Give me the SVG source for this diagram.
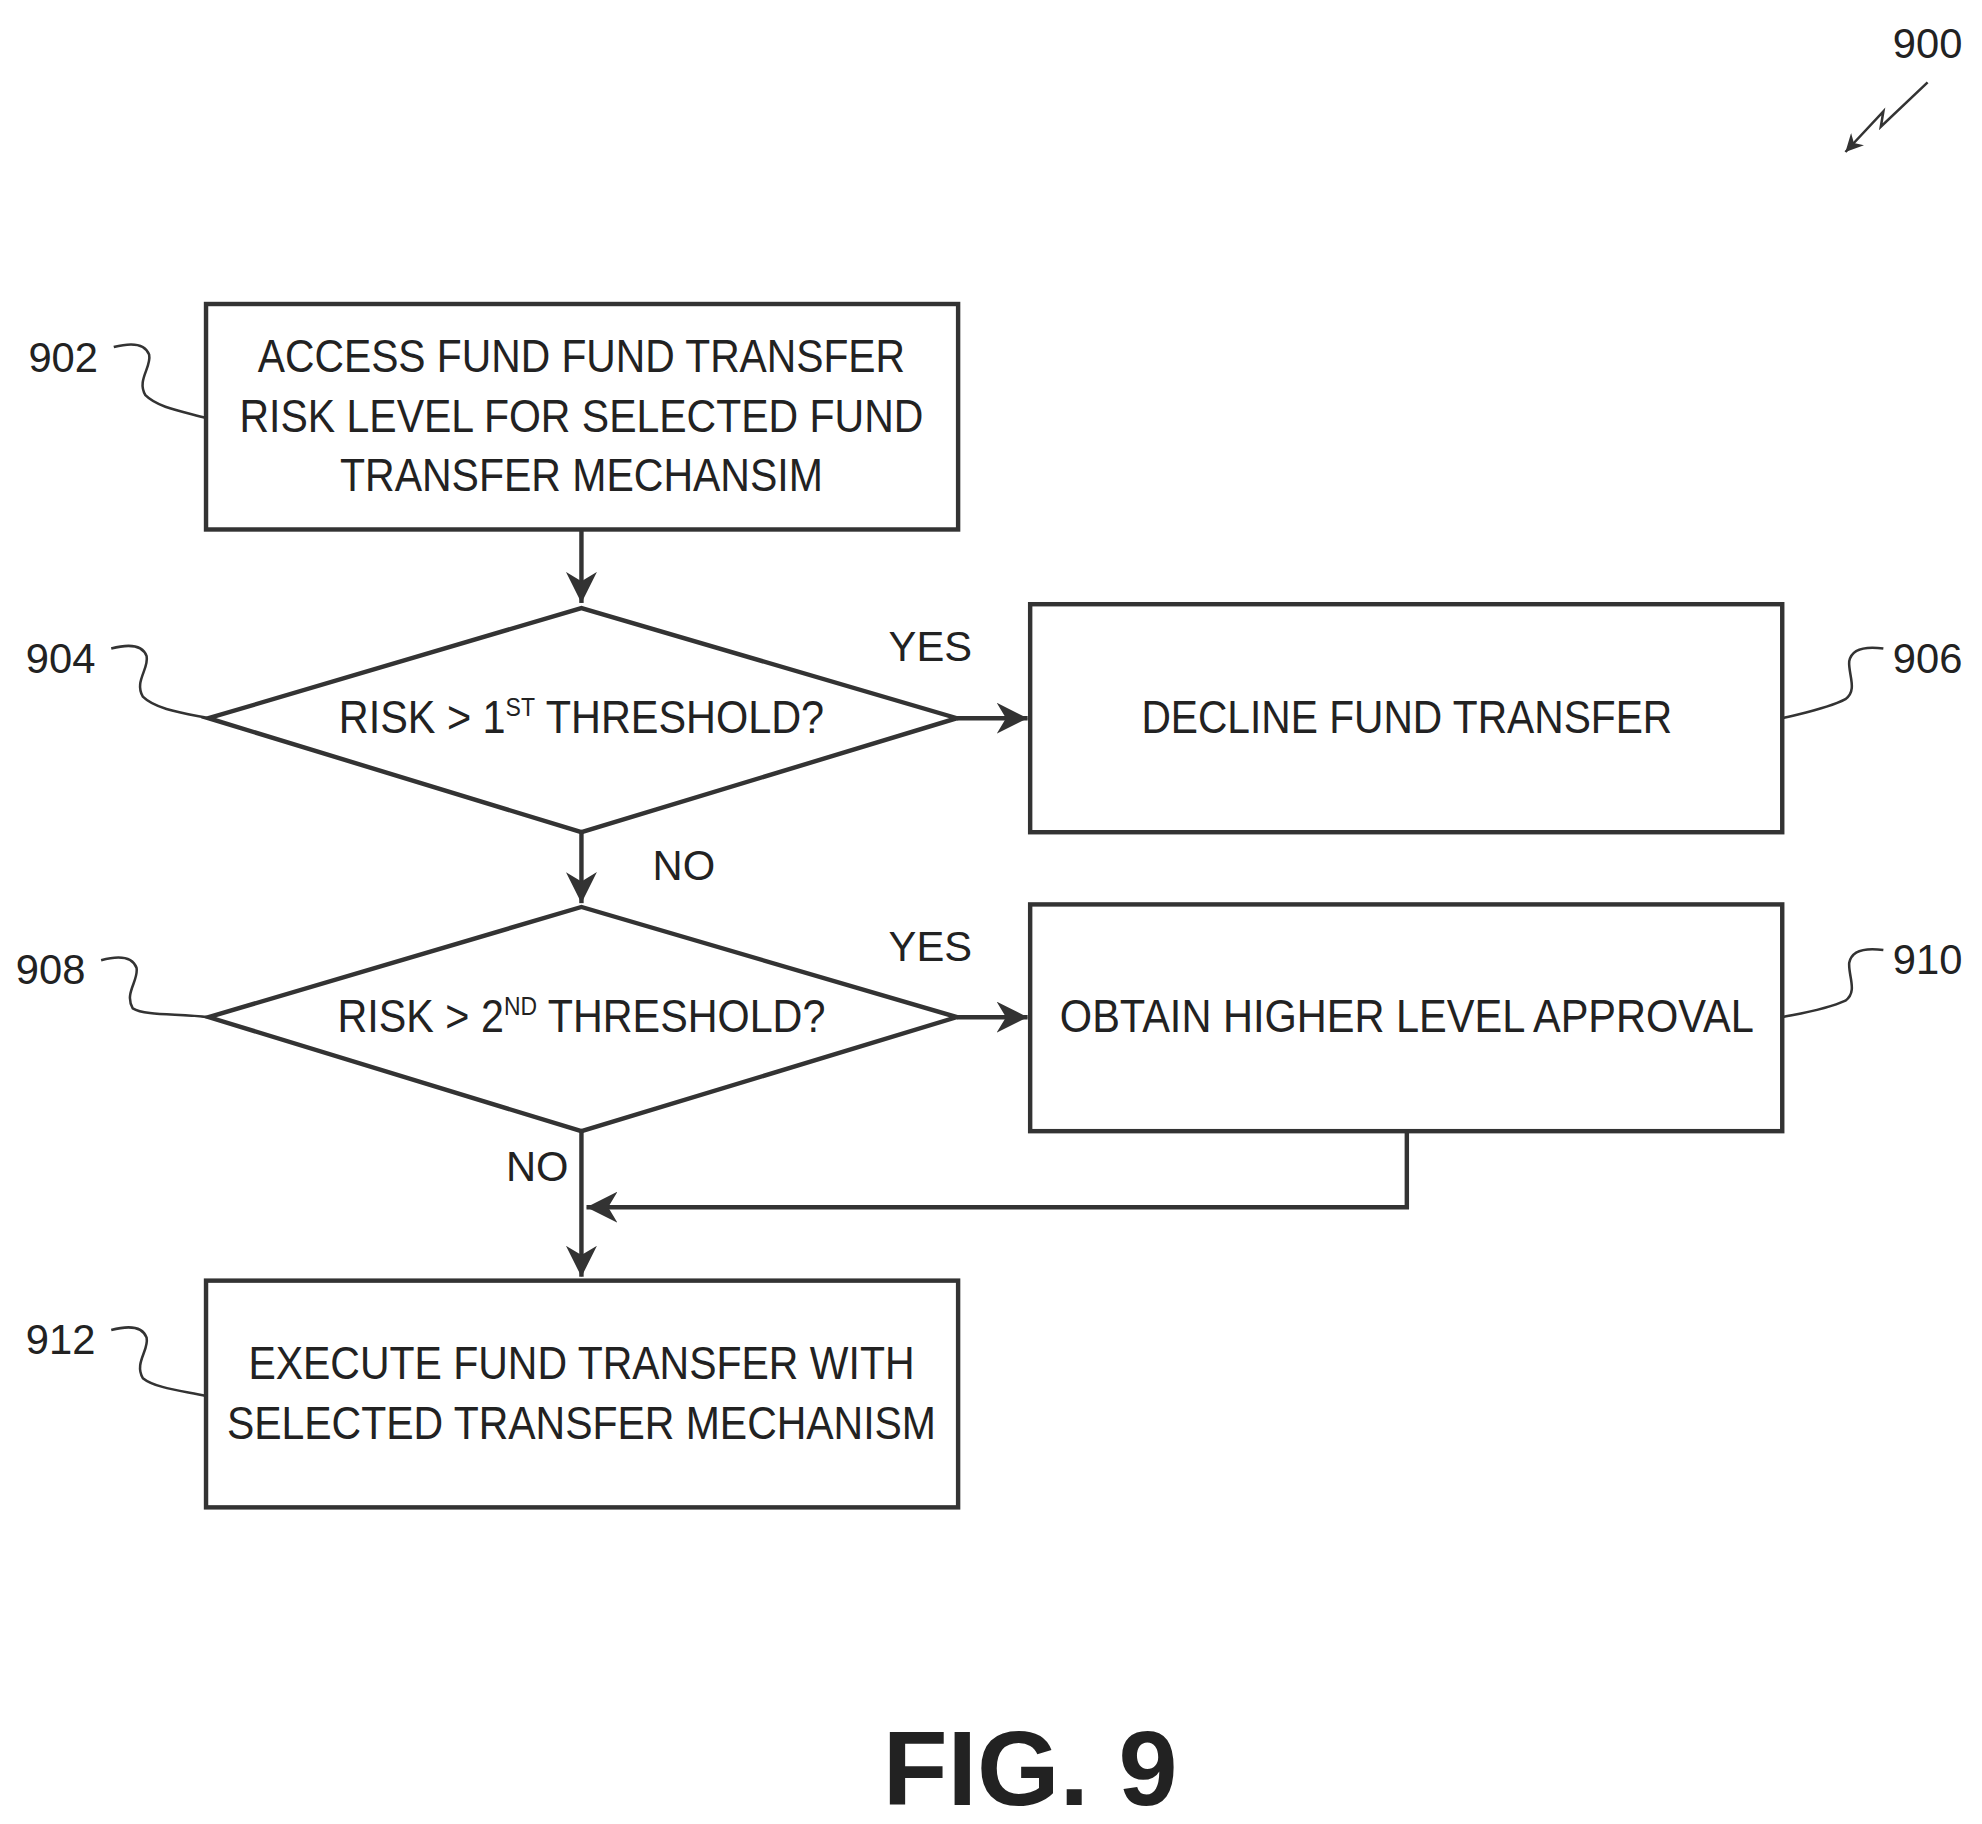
<svg xmlns="http://www.w3.org/2000/svg" width="1982" height="1824" viewBox="0 0 1982 1824">
<defs>
<style>
.s{fill:none;stroke:#333;stroke-width:3.5}
.t{font-family:"Liberation Sans",Arial,sans-serif;font-size:36px;fill:#222;text-anchor:middle}
.l{font-family:"Liberation Sans",Arial,sans-serif;font-size:33px;fill:#222}
.thin{fill:none;stroke:#333;stroke-width:2}
</style>
<marker id="a" viewBox="0 0 10 10" refX="10" refY="5" markerWidth="7" markerHeight="7" markerUnits="strokeWidth" orient="auto"><path d="M0,0L10,5L0,10L3,5z" fill="#333"/></marker>
</defs>
<rect width="1982" height="1824" fill="#fff"/>
<g transform="scale(1.264 1.2667)">
<g id="connectors">
<path class="s" d="M460,418V476" marker-end="url(#a)"/>
<path class="s" d="M757,567H813" marker-end="url(#a)"/>
<path class="s" d="M460,657V713" marker-end="url(#a)"/>
<path class="s" d="M757,803H813" marker-end="url(#a)"/>
<path class="s" d="M460,893V1008" marker-end="url(#a)"/>
<path class="s" d="M1113,893V953H464" marker-end="url(#a)"/>
<text class="l" x="736" y="522" text-anchor="middle">YES</text>
<text class="l" x="541" y="695" text-anchor="middle">NO</text>
<text class="l" x="736" y="759" text-anchor="middle">YES</text>
<text class="l" x="425" y="932" text-anchor="middle">NO</text>
</g>
<g id="n900">
<text class="l" x="1525" y="46" text-anchor="middle">900</text>
<path class="thin" d="M1525,65L1488,100L1490,88L1460,120" marker-end="url(#a)"/>
</g>
<g id="n902">
<rect class="s" x="163" y="240" width="595" height="178"/>
<text class="t" x="460" y="294" textLength="512" lengthAdjust="spacingAndGlyphs">ACCESS FUND FUND TRANSFER</text>
<text class="t" x="460" y="341" textLength="541" lengthAdjust="spacingAndGlyphs">RISK LEVEL FOR SELECTED FUND</text>
<text class="t" x="460" y="388" textLength="382" lengthAdjust="spacingAndGlyphs">TRANSFER MECHANSIM</text>
<text class="l" x="50" y="294" text-anchor="middle">902</text>
<path class="thin" d="M90,274C105,270 115,272 118,280C120,290 108,300 115,312C125,322 145,325 163,330"/>
</g>
<g id="n904">
<path class="s" d="M165,567L460,480L757,567L460,657Z"/>
<text class="t" x="460" y="579" textLength="384" lengthAdjust="spacingAndGlyphs">RISK &gt; 1<tspan font-size="20" dy="-14">ST</tspan><tspan dy="14"> THRESHOLD?</tspan></text>
<text class="l" x="48" y="531" text-anchor="middle">904</text>
<path class="thin" d="M88,512C103,508 113,510 116,518C118,528 106,538 113,550C123,560 145,563 165,567"/>
</g>
<g id="n906">
<rect class="s" x="815" y="477" width="595" height="180"/>
<text class="t" x="1113" y="579" textLength="420" lengthAdjust="spacingAndGlyphs">DECLINE FUND TRANSFER</text>
<text class="l" x="1525" y="531" text-anchor="middle">906</text>
<path class="thin" d="M1490,512C1475,510 1465,512 1463,522C1462,532 1470,545 1460,552C1445,560 1425,563 1410,567"/>
</g>
<g id="n908">
<path class="s" d="M165,803L460,716L757,803L460,893Z"/>
<text class="t" x="460" y="815" textLength="386" lengthAdjust="spacingAndGlyphs">RISK &gt; 2<tspan font-size="20" dy="-14">ND</tspan><tspan dy="14"> THRESHOLD?</tspan></text>
<text class="l" x="40" y="777" text-anchor="middle">908</text>
<path class="thin" d="M80,758C95,754 105,756 108,764C110,774 98,784 105,796C115,802 140,800 165,803"/>
</g>
<g id="n910">
<rect class="s" x="815" y="714" width="595" height="179"/>
<text class="t" x="1113" y="815" textLength="549" lengthAdjust="spacingAndGlyphs">OBTAIN HIGHER LEVEL APPROVAL</text>
<text class="l" x="1525" y="769" text-anchor="middle">910</text>
<path class="thin" d="M1490,750C1475,748 1465,750 1463,760C1462,770 1470,783 1460,790C1445,797 1425,800 1410,803"/>
</g>
<g id="n912">
<rect class="s" x="163" y="1011" width="595" height="179"/>
<text class="t" x="460" y="1089" textLength="527" lengthAdjust="spacingAndGlyphs">EXECUTE FUND TRANSFER WITH</text>
<text class="t" x="460" y="1136" textLength="561" lengthAdjust="spacingAndGlyphs">SELECTED TRANSFER MECHANISM</text>
<text class="l" x="48" y="1069" text-anchor="middle">912</text>
<path class="thin" d="M88,1050C103,1046 113,1048 116,1056C118,1066 106,1076 113,1088C123,1096 145,1098 163,1102"/>
</g>
<text x="815" y="1425" text-anchor="middle" font-family="Liberation Sans,Arial,sans-serif" font-weight="bold" font-size="84" fill="#222">FIG. 9</text>
</g>
</svg>
